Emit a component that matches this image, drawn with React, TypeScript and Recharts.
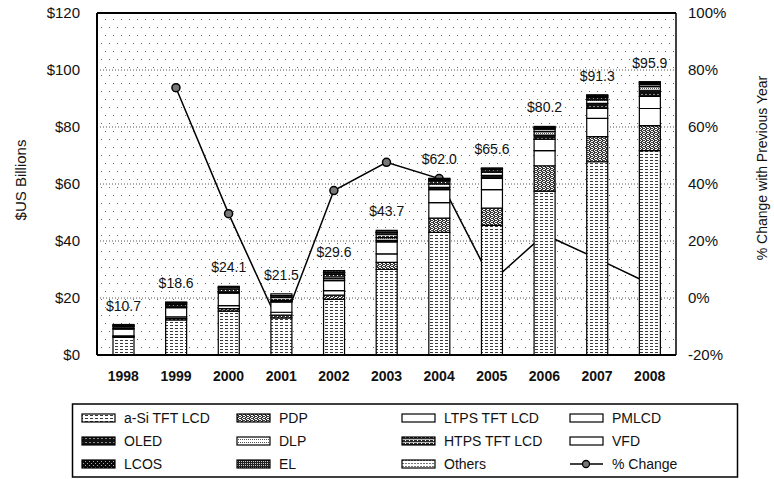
import {
  ComposedChart,
  Bar,
  Line,
  Scatter,
  XAxis,
  YAxis,
  CartesianGrid,
  LabelList,
  ReferenceLine,
} from "recharts";

const years = ["1998", "1999", "2000", "2001", "2002", "2003", "2004", "2005", "2006", "2007", "2008"];

// $US billions by technology
const aSiTftLcd = [6.2, 12.3, 15.4, 13.0, 19.5, 30.0, 43.0, 45.5, 57.5, 67.8, 71.7];
const pdp = [0.3, 0.5, 0.9, 1.0, 1.5, 2.5, 5.0, 6.0, 8.9, 8.8, 8.8];
const ltpsTftLcd = [0.2, 0.6, 1.0, 1.0, 1.6, 3.0, 5.5, 6.5, 5.3, 6.4, 6.0];
const pmlcd = [2.4, 3.2, 4.4, 3.6, 3.5, 4.2, 4.5, 4.0, 4.0, 3.5, 4.2];
const oled = [0.0, 0.0, 0.0, 0.1, 0.2, 0.5, 0.8, 1.0, 1.5, 1.8, 2.2];
const dlp = [0.2, 0.3, 0.4, 0.5, 0.7, 1.0, 1.2, 1.2, 1.2, 1.2, 1.3];
const htpsTftLcd = [0.7, 0.8, 1.0, 1.0, 1.3, 1.2, 1.0, 0.8, 0.8, 0.8, 0.7];
const vfd = [0.4, 0.5, 0.5, 0.5, 0.5, 0.5, 0.4, 0.3, 0.3, 0.3, 0.3];
const lcos = [0.0, 0.0, 0.0, 0.0, 0.1, 0.1, 0.2, 0.1, 0.3, 0.3, 0.4];
const el = [0.1, 0.1, 0.2, 0.2, 0.2, 0.2, 0.2, 0.1, 0.2, 0.2, 0.2];
const others = [0.2, 0.3, 0.3, 0.6, 0.5, 0.5, 0.2, 0.1, 0.2, 0.2, 0.1];

const totals = [10.7, 18.6, 24.1, 21.5, 29.6, 43.7, 62.0, 65.6, 80.2, 91.3, 95.9];
const pctChange = [null, 73.8, 29.6, -10.8, 37.7, 47.6, 41.9, 5.8, 22.3, 13.8, 5.0];

const leftTicks = [0, 20, 40, 60, 80, 100, 120];
const rightTicks = [-20, 0, 20, 40, 60, 80, 100];

const series = [
  { key: "aSi", label: "a-Si TFT LCD", values: aSiTftLcd, fill: "url(#pat-asi)" },
  { key: "pdp", label: "PDP", values: pdp, fill: "url(#pat-pdp)" },
  { key: "ltps", label: "LTPS  TFT LCD", values: ltpsTftLcd, fill: "#ffffff" },
  { key: "pmlcd", label: "PMLCD", values: pmlcd, fill: "#ffffff" },
  { key: "oled", label: "OLED", values: oled, fill: "url(#pat-oled)" },
  { key: "dlp", label: "DLP", values: dlp, fill: "url(#pat-dlp)" },
  { key: "htps", label: "HTPS TFT LCD", values: htpsTftLcd, fill: "url(#pat-htps)" },
  { key: "vfd", label: "VFD", values: vfd, fill: "#ffffff" },
  { key: "lcos", label: "LCOS", values: lcos, fill: "url(#pat-lcos)" },
  { key: "el", label: "EL", values: el, fill: "url(#pat-el)" },
  { key: "others", label: "Others", values: others, fill: "url(#pat-others)" },
];

const chartData = years.map((year, i) => {
  const row: Record<string, any> = { year, total: totals[i], pct: pctChange[i] };
  series.forEach((s) => {
    row[s.key] = s.values[i];
  });
  return row;
});

const font = '"Liberation Sans", Arial, sans-serif';

function Patterns() {
  return (
    <defs>
      <pattern id="pat-bg" width="8" height="16" patternUnits="userSpaceOnUse">
        <rect width="8" height="16" fill="#ffffff" />
        <rect x="1" y="3" width="1" height="1" fill="#6a6a6a" />
        <rect x="5" y="11" width="1" height="1" fill="#6a6a6a" />
      </pattern>
      <pattern id="pat-asi" width="5" height="3" patternUnits="userSpaceOnUse">
        <rect width="5" height="3" fill="#ffffff" />
        <rect x="0" y="1" width="3" height="1" fill="#3a3a3a" />
      </pattern>
      <pattern id="pat-pdp" width="4" height="4" patternUnits="userSpaceOnUse">
        <rect width="4" height="4" fill="#3a3a3a" />
        <rect x="1" y="0" width="1" height="1" fill="#ffffff" />
        <rect x="2" y="2" width="1" height="1" fill="#ffffff" />
        <rect x="0" y="3" width="1" height="1" fill="#ffffff" />
        <rect x="3" y="1" width="1" height="1" fill="#ffffff" />
        <rect x="0" y="1" width="1" height="1" fill="#ffffff" />
        <rect x="3" y="3" width="1" height="1" fill="#ffffff" />
      </pattern>
      <pattern id="pat-oled" width="4" height="4" patternUnits="userSpaceOnUse">
        <rect width="4" height="4" fill="#111111" />
        <rect x="1" y="2" width="2" height="1" fill="#888888" />
      </pattern>
      <pattern id="pat-dlp" width="4" height="3" patternUnits="userSpaceOnUse">
        <rect width="4" height="3" fill="#ffffff" />
        <rect x="0" y="1" width="1" height="1" fill="#555555" />
        <rect x="2" y="1" width="1" height="1" fill="#555555" />
      </pattern>
      <pattern id="pat-htps" width="4" height="3" patternUnits="userSpaceOnUse">
        <rect width="4" height="3" fill="#2a2a2a" />
        <rect x="0" y="1" width="4" height="1" fill="#bbbbbb" />
        <rect x="1" y="2" width="1" height="1" fill="#ffffff" />
      </pattern>
      <pattern id="pat-lcos" width="4" height="4" patternUnits="userSpaceOnUse">
        <rect width="4" height="4" fill="#0a0a0a" />
        <rect x="1" y="1" width="1" height="1" fill="#aaaaaa" />
        <rect x="3" y="3" width="1" height="1" fill="#aaaaaa" />
      </pattern>
      <pattern id="pat-el" width="2" height="2" patternUnits="userSpaceOnUse">
        <rect width="2" height="2" fill="#222222" />
        <rect x="1" y="1" width="1" height="1" fill="#cccccc" />
      </pattern>
      <pattern id="pat-others" width="3" height="3" patternUnits="userSpaceOnUse">
        <rect width="3" height="3" fill="#ffffff" />
        <rect x="0" y="1" width="2" height="1" fill="#777777" />
      </pattern>
    </defs>
  );
}

function Marker(props: any) {
  const { cx, cy, payload } = props;
  if (payload == null || payload.pct == null || !Number.isFinite(cx) || !Number.isFinite(cy)) return null;
  return <circle cx={cx} cy={cy} r={4} fill="#777" stroke="#000" strokeWidth={1.5} />;
}

function LegendOverlay() {
  const swatchX = [82, 237, 402, 570];
  const rowY = [418, 441, 464];
  return (
    <svg
      width={774}
      height={479}
      style={{ position: "absolute", left: 0, top: 0, pointerEvents: "none" }}
    >
      <text
        x={20}
        y={180}
        transform="rotate(-90 20 180)"
        textAnchor="middle"
        dominantBaseline="central"
        fontFamily={font}
        fontSize={15}
        fill="#111"
      >
        $US Billions
      </text>
      <text
        x={762}
        y={168}
        transform="rotate(-90 762 168)"
        textAnchor="middle"
        dominantBaseline="central"
        fontFamily={font}
        fontSize={14}
        fill="#111"
      >
        % Change with Previous Year
      </text>
      <rect x={72.5} y={404} width={665} height={73} fill="#fff" stroke="#000" strokeWidth={1.5} />
      {series.map((s, i) => {
        const col = i % 4;
        const row = Math.floor(i / 4);
        const x = swatchX[col];
        const y = rowY[row];
        return (
          <g key={s.key}>
            <rect x={x} y={y - 4} width={33} height={8} fill={s.fill} stroke="#000" strokeWidth={1.2} />
            <text x={x + 42} y={y} dominantBaseline="central" fontFamily={font} fontSize={14} fill="#111">
              {s.label}
            </text>
          </g>
        );
      })}
      <g>
        <line x1={swatchX[3]} y1={rowY[2]} x2={swatchX[3] + 33} y2={rowY[2]} stroke="#000" strokeWidth={1.5} />
        <circle cx={swatchX[3] + 16} cy={rowY[2]} r={3.5} fill="#777" stroke="#000" strokeWidth={1.3} />
        <text x={swatchX[3] + 42} y={rowY[2]} dominantBaseline="central" fontFamily={font} fontSize={14} fill="#111">
          % Change
        </text>
      </g>
    </svg>
  );
}

export default function App() {
  return (
    <div style={{ position: "absolute", left: 0, top: 0, width: 774, height: 479, background: "#fff" }}>
      <ComposedChart
        width={774}
        height={479}
        data={chartData}
        margin={{ top: 13, right: 0, left: 0, bottom: 84 }}
        barCategoryGap={0}
      >
        <Patterns />
        <CartesianGrid
          yAxisId="left"
          vertical={false}
          fill="url(#pat-bg)"
          stroke="#555"
          strokeDasharray="1 2"
        />
        <XAxis
          dataKey="year"
          height={40}
          tickLine={false}
          tickMargin={10}
          axisLine={{ stroke: "#000", strokeWidth: 2 }}
          tick={{ fontSize: 14, fontWeight: "bold", fill: "#111", fontFamily: font }}
          interval={0}
        />
        <YAxis
          yAxisId="left"
          width={97}
          domain={[0, 120]}
          ticks={leftTicks}
          tickFormatter={(v) => `$${v}`}
          tickLine={false}
          tickMargin={11}
          axisLine={{ stroke: "#000", strokeWidth: 2 }}
          tick={{ fontSize: 15, fill: "#111", fontFamily: font }}
        />
        <YAxis
          yAxisId="right"
          orientation="right"
          width={98}
          domain={[-20, 100]}
          ticks={rightTicks}
          tickFormatter={(v) => `${v}%`}
          tickLine={false}
          tickMargin={6}
          axisLine={{ stroke: "#000", strokeWidth: 1.5 }}
          tick={{ fontSize: 15, fill: "#111", fontFamily: font }}
        />
        <ReferenceLine yAxisId="left" y={120} stroke="#000" strokeWidth={2} />
        <Line
          yAxisId="right"
          dataKey="pct"
          type="linear"
          stroke="#000"
          strokeWidth={1.5}
          dot={false}
          activeDot={false}
          isAnimationActive={false}
          zIndex={250}
        />
        <Scatter
          yAxisId="right"
          dataKey="pct"
          shape={<Marker />}
          isAnimationActive={false}
          zIndex={260}
        />
        {series.map((s, i) => (
          <Bar
            key={s.key}
            yAxisId="left"
            dataKey={s.key}
            stackId="sales"
            barSize={21}
            fill={s.fill}
            stroke="#000"
            strokeWidth={1.2}
            isAnimationActive={false}
            zIndex={300}
          >
            {i === series.length - 1 && (
              <LabelList
                dataKey="total"
                position="top"
                offset={14}
                formatter={(v: any) => `$${Number(v).toFixed(1)}`}
                style={{ fontSize: 14, fill: "#111", fontFamily: font }}
              />
            )}
          </Bar>
        ))}
      </ComposedChart>
      <LegendOverlay />
    </div>
  );
}
